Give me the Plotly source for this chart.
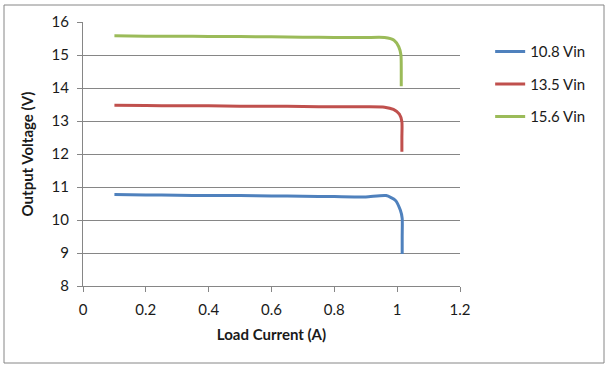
import plotly.graph_objects as go

# Data
x_108 = [0.10, 0.20, 0.30, 0.40, 0.50, 0.60, 0.70, 0.80, 0.90, 0.965, 0.994, 1.010, 1.016, 1.016, 1.016]
v_108 = [10.77, 10.76, 10.75, 10.74, 10.74, 10.73, 10.72, 10.71, 10.70, 10.74, 10.60, 10.30, 10.05, 9.50, 8.97]

x_135 = [0.10, 0.20, 0.30, 0.40, 0.50, 0.60, 0.70, 0.80, 0.90, 0.960, 0.988, 1.007, 1.015, 1.015, 1.015]
v_135 = [13.48, 13.47, 13.46, 13.46, 13.45, 13.45, 13.44, 13.43, 13.43, 13.42, 13.35, 13.21, 12.98, 12.50, 12.07]

x_156 = [0.10, 0.20, 0.30, 0.40, 0.50, 0.60, 0.70, 0.80, 0.90, 0.960, 0.990, 1.005, 1.012, 1.013, 1.013]
v_156 = [15.58, 15.57, 15.57, 15.56, 15.56, 15.55, 15.54, 15.53, 15.53, 15.53, 15.45, 15.25, 15.00, 14.50, 14.05]

series_names = ["10.8 Vin", "13.5 Vin", "15.6 Vin"]
series_colors = ["#4F81BD", "#C0504D", "#9BBB59"]
x_ticks = [0, 0.2, 0.4, 0.6, 0.8, 1, 1.2]
x_tick_text = ["0", "0.2", "0.4", "0.6", "0.8", "1", "1.2"]
y_ticks = [8, 9, 10, 11, 12, 13, 14, 15, 16]

FONT = "Lato, Open Sans, sans-serif"
FS = 15

fig = go.Figure()
for i, (xs, ys) in enumerate([(x_108, v_108), (x_135, v_135), (x_156, v_156)]):
    fig.add_trace(go.Scatter(
        x=xs, y=ys, mode="lines", name=series_names[i],
        line=dict(color=series_colors[i], width=3, shape="spline", smoothing=0.6),
        legendgroup=str(i),
    ))

fig.update_layout(
    width=608, height=366,
    margin=dict(l=83, r=148, t=22, b=80),
    paper_bgcolor="white", plot_bgcolor="white",
    font=dict(family=FONT, size=FS, color="#1a1a1a"),
    showlegend=True,
    legend=dict(x=1.08, y=0.95, xanchor="left", yanchor="top",
                tracegroupgap=10, font=dict(size=FS, family=FONT, color="#1a1a1a"),
                bgcolor="rgba(0,0,0,0)", itemwidth=30),
    xaxis=dict(range=[0, 1.2], tickvals=x_ticks, ticktext=x_tick_text,
               showgrid=False, zeroline=False, showline=True, linecolor="#868686",
               linewidth=1, ticks="outside", ticklen=5, tickcolor="#868686",
               tickfont=dict(size=FS, family=FONT), ticklabelstandoff=5,
               title=dict(text="<b>Load Current (A)</b>", font=dict(size=FS, family=FONT), standoff=12)),
    yaxis=dict(range=[8, 16], tickvals=y_ticks,
               showgrid=True, gridcolor="#868686", gridwidth=1, zeroline=False,
               showline=True, linecolor="#868686", linewidth=1,
               ticks="outside", ticklen=5, tickcolor="#868686",
               tickfont=dict(size=FS, family=FONT), ticklabelstandoff=5,
               title=dict(text="<b>Output Voltage (V)</b>", font=dict(size=FS, family=FONT), standoff=14)),
    shapes=[dict(type="rect", xref="paper", yref="paper",
                 x0=(4 - 83) / 377, x1=(604 - 83) / 377,
                 y0=(286 - 363) / 264, y1=(286 - 5) / 264,
                 line=dict(color="#868686", width=1), fillcolor="rgba(0,0,0,0)", layer="below")],
)

fig.write_html("out.html", config={"displayModeBar": False},
               post_script="document.body.style.margin='0';")
